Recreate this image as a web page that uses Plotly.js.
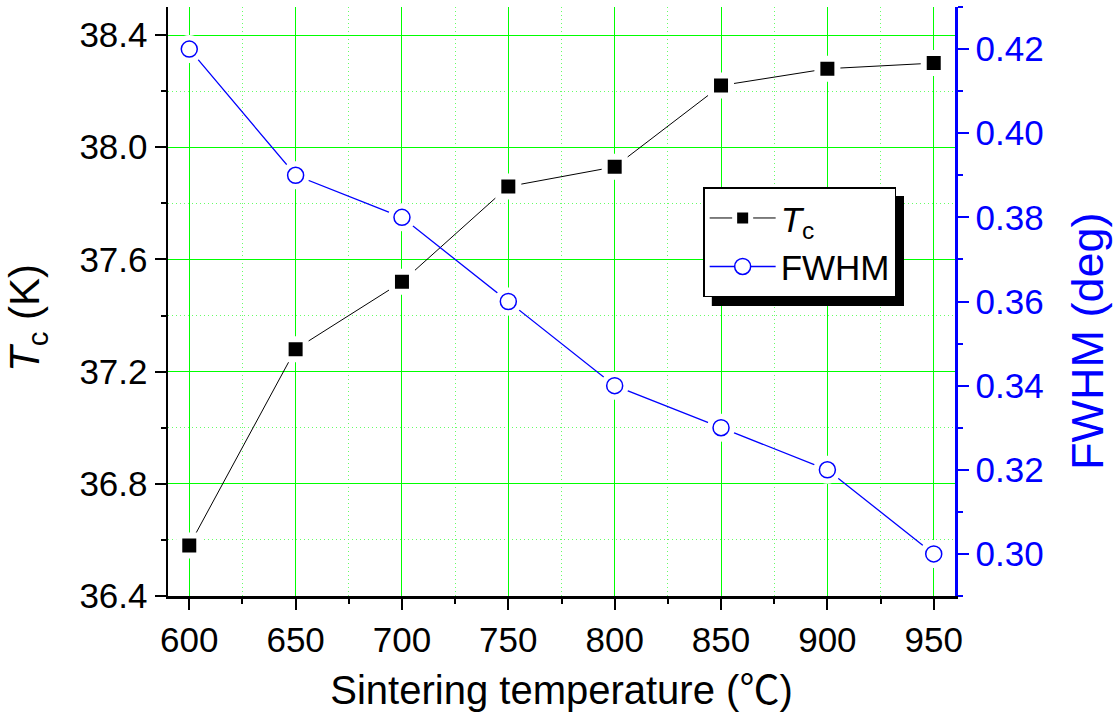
<!DOCTYPE html>
<html>
<head>
<meta charset="utf-8">
<script src="https://cdn.plot.ly/plotly-3.0.1.min.js"></script>
<style>
  html, body { margin: 0; padding: 0; background: #fff; }
  #chart { width: 1114px; height: 716px; }
</style>
</head>
<body>
<div id="chart"></div>
<script>
// Sintering temperature (°C)
const temperature = [600, 650, 700, 750, 800, 850, 900, 950];
// Superconducting transition temperature Tc (K)
const tcValues = [36.58, 37.28, 37.52, 37.86, 37.93, 38.22, 38.28, 38.30];
// Peak width FWHM (deg)
const fwhmValues = [0.42, 0.39, 0.38, 0.36, 0.34, 0.33, 0.32, 0.30];

const FONT = 'Liberation Sans, Arial, sans-serif';
const BLUE = '#0000ff';
const GRID = '#00ff00';
const GRID_MINOR = '#66ff66';

const traces = [
  {
    name: '<i>T</i><sub>c</sub>',
    x: temperature, y: tcValues,
    mode: 'lines+markers',
    line: { color: '#000000', width: 1 },
    marker: { symbol: 'square', size: 20, color: '#000000',
              line: { color: '#ffffff', width: 6 } },
    xaxis: 'x', yaxis: 'y'
  },
  {
    name: 'FWHM',
    x: temperature, y: fwhmValues,
    mode: 'lines+markers',
    line: { color: BLUE, width: 1.3 },
    marker: { symbol: 'circle', size: 16, color: '#ffffff',
              line: { color: BLUE, width: 1.5 } },
    xaxis: 'x', yaxis: 'y2'
  },
  {
    // white ring that opens a small gap between the line and each circle
    x: temperature, y: fwhmValues,
    mode: 'markers', showlegend: false, hoverinfo: 'skip',
    marker: { symbol: 'circle', size: 28, color: '#ffffff', line: { width: 0 } },
    xaxis: 'x', yaxis: 'y2'
  },
  {
    x: temperature, y: fwhmValues,
    mode: 'markers', showlegend: false,
    marker: { symbol: 'circle', size: 16, color: '#ffffff',
              line: { color: BLUE, width: 1.5 } },
    xaxis: 'x', yaxis: 'y2'
  }
];

const layout = {
  width: 1114, height: 716,
  margin: { l: 168, r: 159, t: 7, b: 120 },
  paper_bgcolor: '#ffffff', plot_bgcolor: '#ffffff',
  font: { family: FONT, color: '#000000', size: 35 },
  showlegend: true,
  legend: {
    x: 0.68, y: 0.694, xanchor: 'left', yanchor: 'top',
    bgcolor: '#ffffff', bordercolor: '#000000', borderwidth: 1.5,
    font: { family: FONT, size: 35, color: '#000000' },
    itemwidth: 66, tracegroupgap: 0
  },
  shapes: [
    // drop shadow behind the legend box
    { type: 'rect', xref: 'paper', yref: 'paper',
      x0: 0.691, x1: 0.9352, y0: 0.4924, y1: 0.679,
      fillcolor: '#000000', line: { width: 0 }, layer: 'above' }
  ],
  annotations: [
    { xref: 'paper', yref: 'paper', x: -0.178, y: 0.472,
      xanchor: 'center', yanchor: 'middle', textangle: -90, showarrow: false,
      text: '<i>T</i><sub>c</sub> (K)', font: { family: FONT, size: 42, color: '#000000' } },
    { xref: 'paper', yref: 'paper', x: 1.169, y: 0.433,
      xanchor: 'center', yanchor: 'middle', textangle: -90, showarrow: false,
      text: 'FWHM (deg)', font: { family: FONT, size: 45, color: BLUE } }
  ],
  xaxis: {
    range: [590, 960], tick0: 600, dtick: 50,
    showline: true, linecolor: '#000000', linewidth: 2.5,
    ticks: 'outside', ticklen: 11, tickwidth: 2, tickcolor: '#000000',
    showgrid: true, gridcolor: GRID, gridwidth: 1,
    zeroline: false,
    tickfont: { family: FONT, size: 35 },
    minor: { dtick: 25, ticks: 'outside', ticklen: 5, tickwidth: 2, tickcolor: '#000000',
             showgrid: true, gridcolor: GRID_MINOR, griddash: '1px,3px', gridwidth: 1 },
    title: { text: 'Sintering temperature (<span style="font-family:\'Noto Sans CJK SC\'">℃</span>)',
             font: { family: FONT, size: 40 }, standoff: 16 }
  },
  xaxis2: {
    overlaying: 'x', anchor: 'y', side: 'top',
    range: [590, 960], tick0: 600, dtick: 50,
    showline: true, linecolor: '#000000', linewidth: 2.5,
    ticks: 'inside', ticklen: 11, tickwidth: 2, tickcolor: '#000000',
    showticklabels: false, showgrid: false, zeroline: false,
    minor: { dtick: 25, ticks: 'inside', ticklen: 5, tickwidth: 2, tickcolor: '#000000', showgrid: false }
  },
  yaxis: {
    range: [36.4, 38.5], tick0: 36.4, dtick: 0.4, tickformat: '.1f',
    showline: true, linecolor: '#000000', linewidth: 2.5,
    ticks: 'outside', ticklen: 11, tickwidth: 2, tickcolor: '#000000',
    showgrid: true, gridcolor: GRID, gridwidth: 1,
    zeroline: false,
    tickfont: { family: FONT, size: 35 },
    minor: { dtick: 0.2, ticks: 'outside', ticklen: 5, tickwidth: 2, tickcolor: '#000000',
             showgrid: true, gridcolor: GRID_MINOR, griddash: '1px,3px', gridwidth: 1 }
  },
  yaxis2: {
    overlaying: 'y', side: 'right', anchor: 'x',
    range: [0.29, 0.43], tick0: 0.30, dtick: 0.02, tickformat: '.2f',
    showline: true, linecolor: BLUE, linewidth: 2.5,
    ticks: 'outside', ticklen: 11, tickwidth: 2, tickcolor: BLUE,
    showgrid: false, zeroline: false,
    tickfont: { family: FONT, size: 35, color: BLUE },
    minor: { dtick: 0.01, ticks: 'outside', ticklen: 5, tickwidth: 2, tickcolor: BLUE, showgrid: false }
  }
};

Plotly.newPlot('chart', traces, layout, { staticPlot: true, displayModeBar: false });
</script>
</body>
</html>
